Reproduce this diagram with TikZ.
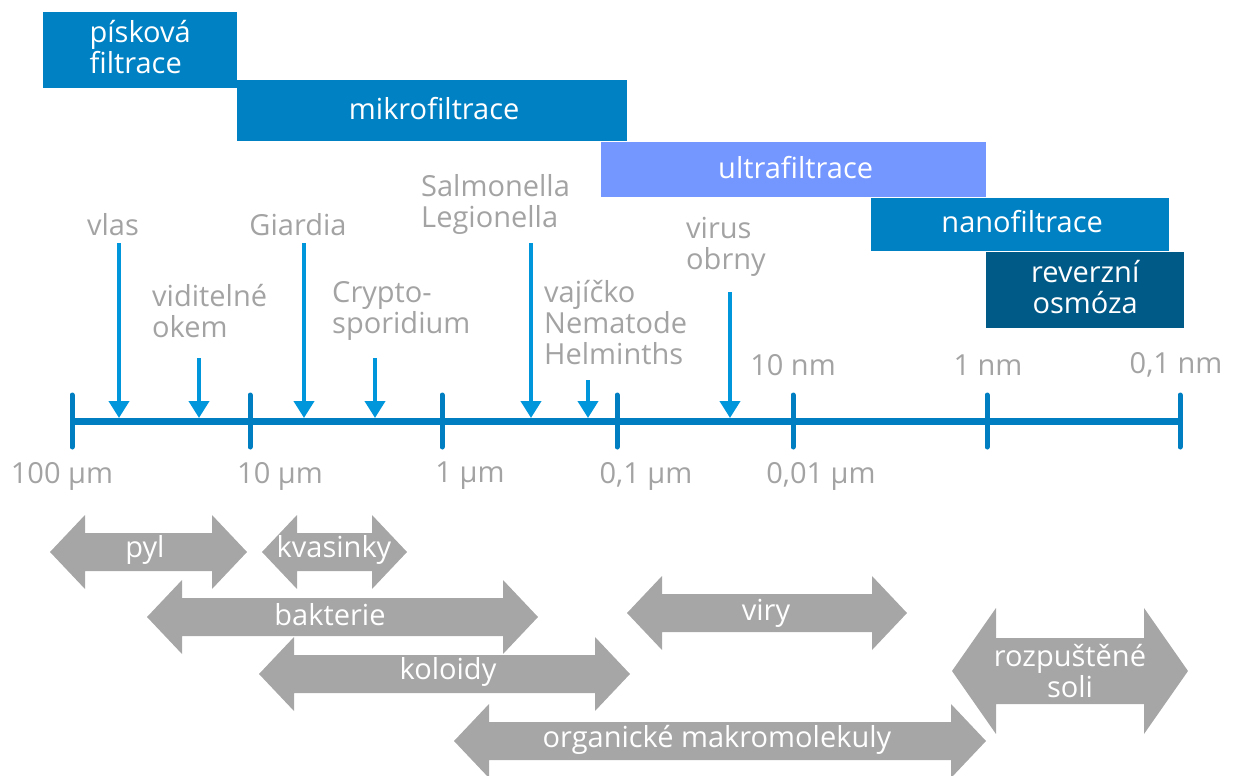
\documentclass[tikz,border=0pt]{standalone}
\usepackage{fontspec}
\setmainfont{Open Sans}
\usetikzlibrary{arrows.meta}
\definecolor{boxblue}{HTML}{0081C3}
\definecolor{ultra}{HTML}{7396FF}
\definecolor{rodark}{HTML}{005A87}
\definecolor{axblue}{HTML}{007EC2}
\definecolor{arrblue}{HTML}{0096DC}
\definecolor{lbl}{HTML}{A3A3A3}
\definecolor{garr}{HTML}{A6A6A6}
\newcommand\dblarrow[6]{%
  \fill[garr] (#1,#3) -- (#1+#4,#3-#5) -- (#1+#4,#3-#6) -- (#2-#4,#3-#6) -- (#2-#4,#3-#5) -- (#2,#3)
   -- (#2-#4,#3+#5) -- (#2-#4,#3+#6) -- (#1+#4,#3+#6) -- (#1+#4,#3+#5) -- cycle;}
\begin{document}
\begin{tikzpicture}[x=1pt,y=-1pt,
  txt/.style={font=\fontsize{29}{31}\selectfont, inner sep=0pt},
  band/.style={fill=#1, draw=none, inner sep=0pt, anchor=north west},
  btext/.style={txt, text=white, align=center},
  lab/.style={txt, text=lbl},
  llab/.style={txt, text=lbl, align=left, anchor=west},
  gtext/.style={txt, text=white, align=center},
  downarr/.style={arrblue, line width=4pt, -{Triangle[width=20pt,length=17pt]}},
  axis/.style={axblue, line width=7pt},
  tick/.style={axblue, line width=5pt, line cap=round}]
\useasboundingbox (0,0) rectangle (1240,776);
% filtration bands
\node[band=boxblue, minimum width=194pt, minimum height=76pt] (pisk) at (43,12) {};
\node[band=boxblue, minimum width=390pt, minimum height=61pt] (mikro) at (237,80) {};
\node[band=ultra, minimum width=385pt, minimum height=55pt] (ultra) at (601,142) {};
\node[band=boxblue, minimum width=298pt, minimum height=53pt] (nano) at (871,198) {};
\node[band=rodark, minimum width=198pt, minimum height=76pt] (ro) at (986,252) {};
\node[btext, align=left] (piskt) at ([yshift=3pt]pisk.center) {písková\\filtrace};
\node[btext] (mikrot) at ([xshift=2pt,yshift=2pt]mikro.center) {mikrofiltrace};
\node[btext] (ultrat) at ([xshift=2pt,yshift=2pt]ultra.center) {ultrafiltrace};
\node[btext] (nanot) at ([xshift=2pt,yshift=3pt]nano.center) {nanofiltrace};
\node[btext] (rot) at ([yshift=3pt]ro.center) {reverzní\\osmóza};
% axis
\coordinate (t0) at (72,421); \coordinate (t1) at (250,421); \coordinate (t2) at (442,421);
\coordinate (t3) at (617,421); \coordinate (t4) at (793,421); \coordinate (t5) at (987,421);
\coordinate (t6) at (1180,421);
\draw[axis] (t0) -- (t6);
\foreach \t in {t0,t1,t2,t3,t4,t5,t6} {\draw[tick] ([yshift=26pt]\t) -- ([yshift=-26pt]\t);}
% top labels
\node[lab] (vlas) at (113,225) {vlas};
\node[llab] (vidit) at (152,311) {viditelné\\okem};
\node[lab] (giard) at (298,225) {Giardia};
\node[llab] (crypto) at (332,311) {Crypto-\\sporidium};
\node[llab] (salm) at (421,204) {Salmonella\\Legionella};
\node[llab] (vaj) at (544,323) {vajíčko\\Nematode\\Helminths};
\node[llab] (virus) at (686,247) {virus\\obrny};
\node[lab] (n10) at (793,365) {10 nm};
\node[lab] (n1) at (988,365) {1 nm};
\node[lab] (n01) at (1176,365) {0,1 nm};
% bottom scale labels
\node[lab] (u100) at (62,476) {100 µm};
\node[lab] (u10) at (280,476) {10 µm};
\node[lab] (u1) at (470,476) {1 µm};
\node[lab] (u01) at (646,476) {0,1 µm};
\node[lab] (u001) at (821,476) {0,01 µm};
% down arrows
\coordinate (s1) at (119,243); \coordinate (e1) at (119,418);
\coordinate (s2) at (199,358); \coordinate (e2) at (199,418);
\coordinate (s3) at (304,243); \coordinate (e3) at (304,418);
\coordinate (s4) at (375,358); \coordinate (e4) at (375,418);
\coordinate (s5) at (531,243); \coordinate (e5) at (531,418);
\coordinate (s6) at (588,380); \coordinate (e6) at (588,418);
\coordinate (s7) at (730,292); \coordinate (e7) at (730,418);
\foreach \i in {1,...,7} {\draw[downarr] (s\i) -- (e\i);}
% size range arrows
\dblarrow{50}{247}{552}{35}{37}{19}
\dblarrow{262}{407}{552}{35}{37}{19}
\dblarrow{147}{538}{617}{35}{37}{19}
\dblarrow{259}{630}{674}{35}{37}{19}
\dblarrow{454}{986}{741}{35}{37}{19}
\dblarrow{627}{907}{613}{35}{37}{19}
\dblarrow{952}{1188}{671}{44}{63}{33}
\node[gtext] (pyl) at (145,550) {pyl};
\node[gtext] (kvas) at (334,550) {kvasinky};
\node[gtext] (bakt) at (330,615) {bakterie};
\node[gtext] (kol) at (448,672) {koloidy};
\node[gtext] (org) at (717,740) {organické makromolekuly};
\node[gtext] (viry) at (766,613) {viry};
\node[gtext] (soli) at (1070,671) {rozpuštěné\\soli};
\end{tikzpicture}
\end{document}
